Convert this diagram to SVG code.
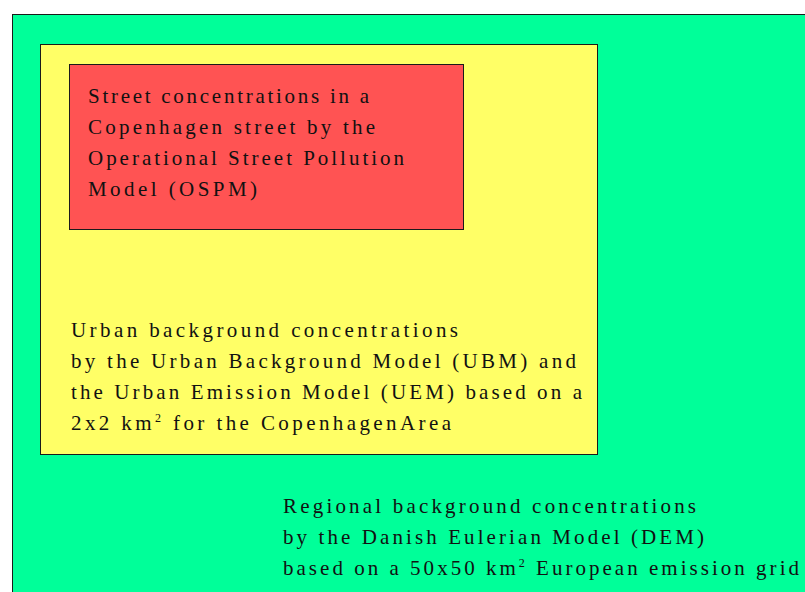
<svg xmlns="http://www.w3.org/2000/svg" width="805" height="592" viewBox="0 0 805 592">
<style>
.t{font-family:"Liberation Serif","Times New Roman",serif;font-size:21px;fill:#111}
.s{font-size:12px}
</style>
<rect width="805" height="592" fill="#ffffff"/>
<g id="regional">
<rect x="12.5" y="14.5" width="800" height="590" fill="#00FF99" stroke="#1a1a1a" stroke-width="1"/>
<text class="t" x="283" y="513" textLength="413" lengthAdjust="spacing">Regional background concentrations</text>
<text class="t" x="283" y="544" textLength="421" lengthAdjust="spacing">by the Danish Eulerian Model (DEM)</text>
<text class="t" x="283" y="575" textLength="516" lengthAdjust="spacing">based on a 50x50 km<tspan class="s" dy="-8">2</tspan><tspan dy="8"> European emission grid</tspan></text>
</g>
<g id="urban">
<rect x="40.5" y="44.5" width="557" height="410" fill="#FFFF66" stroke="#1a1a1a" stroke-width="1"/>
<text class="t" x="71" y="337" textLength="387" lengthAdjust="spacing">Urban background concentrations</text>
<text class="t" x="71" y="368" textLength="505" lengthAdjust="spacing">by the Urban Background Model (UBM) and</text>
<text class="t" x="71" y="399" textLength="511" lengthAdjust="spacing">the Urban Emission Model (UEM) based on a</text>
<text class="t" x="71" y="430" textLength="380" lengthAdjust="spacing">2x2 km<tspan class="s" dy="-8">2</tspan><tspan dy="8">  for the CopenhagenArea</tspan></text>
</g>
<g id="street">
<rect x="69.5" y="64.5" width="394" height="165" fill="#FF5353" stroke="#1a1a1a" stroke-width="1"/>
<text class="t" x="88" y="103" textLength="281" lengthAdjust="spacing">Street concentrations in a</text>
<text class="t" x="88" y="134" textLength="287" lengthAdjust="spacing">Copenhagen street by the</text>
<text class="t" x="88" y="165" textLength="316" lengthAdjust="spacing">Operational Street Pollution</text>
<text class="t" x="88" y="196" textLength="169" lengthAdjust="spacing">Model (OSPM)</text>
</g>
<g id="connectors"/>
</svg>
